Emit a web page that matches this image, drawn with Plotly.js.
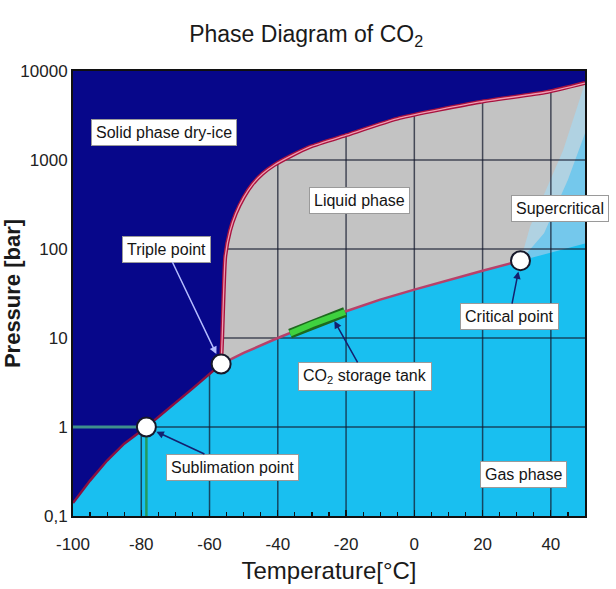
<!DOCTYPE html>
<html>
<head>
<meta charset="utf-8">
<script src="https://cdn.plot.ly/plotly-3.0.1.min.js"></script>
<style>
  html, body { margin: 0; padding: 0; background: #ffffff; }
  #chart { width: 616px; height: 589px; }
</style>
</head>
<body>
<div id="chart"></div>
<script>
// ---- data ----
const tempTicks = [-100, -80, -60, -40, -20, 0, 20, 40];
const tempTickText = ['-100', '-80', '-60', '-40', '-20', '0', '20', '40'];
const presTicks = [0.1, 1, 10, 100, 1000, 10000];
const presTickText = ['0,1', '1', '10', '100', '1000', '10000'];

// sublimation curve (solid / gas)
const sublimT = [-100, -95, -90, -85, -78.5, -72, -65, -56.6];
const sublimP = [0.14, 0.25, 0.42, 0.65, 1.0, 1.6, 2.7, 5.1];

// vaporization curve (liquid / gas)
const vapT = [-56.6, -50, -40, -30, -20, -10, 0, 10, 20, 31.1];
const vapP = [5.1, 6.8, 10, 14.3, 20, 27, 35, 45, 57, 74];

// melting curve (solid / liquid)
const meltT = [-56.6, -56.3, -55.9, -55.4, -54.0, -52.3, -50.0, -47.5, -44.5, -41.0, -36.0, -30.6, -19.7, -4.2, 19.2, 38.9, 50];
const meltP = [5.1, 10, 30, 82, 160, 250, 380, 530, 700, 880, 1120, 1405, 1918, 2970, 4490, 5810, 7330];

// supercritical shading edges: grey -> light blue, light -> mid blue, mid -> cyan
const scEdgeT = [31.1, 33.9, 43.6, 49.5, 50];
const scEdgeP = [74, 178, 1290, 6500, 7330];
const midEdgeT = [31.1, 38, 45, 50];
const midEdgeP = [74, 150, 600, 2000];
const gasEdgeT = [31.1, 40, 50];
const gasEdgeP = [74, 92, 115];

// CO2 storage tank segment
const tankT = [-36.4, -30, -20.3];
const tankP = [11.2, 14.3, 19.6];

// special points
const pointNames = ['Sublimation point', 'Triple point', 'Critical point'];
const pointT = [-78.5, -56.6, 31.1];
const pointP = [1.0, 5.1, 74];

// ---- construction ----
const xMin = -100, xMax = 50, yMin = 0.1, yMax = 10000;
const FONT = 'Liberation Sans, Arial, sans-serif';

const navy = '#07078a';
const grey = '#c3c3c3';
const cyan = '#19bff0';
const light = '#b0d2e2';
const mid = '#74c8ec';

const critP = vapP[vapP.length - 1];

// gas polygon: left edge bottom -> sublimation -> vaporization -> cyan edge -> right edge -> bottom
const gasX = [xMin].concat(sublimT, vapT.slice(1), gasEdgeT.slice(1), [xMax, xMin]);
const gasY = [yMin].concat(sublimP, vapP.slice(1), gasEdgeP.slice(1), [yMin, yMin]);

// supercritical wedges
const wedgeX = scEdgeT.concat([xMax, scEdgeT[0]]);
const wedgeY = scEdgeP.concat([critP, scEdgeP[0]]);
const midX = midEdgeT.concat([xMax, midEdgeT[0]]);
const midY = midEdgeP.concat([critP, midEdgeP[0]]);

// solid polygon (drawn on top of the grid)
const solidX = [xMin].concat(sublimT, meltT.slice(1), [xMax, xMin, xMin]);
const solidY = [sublimP[0]].concat(sublimP, meltP.slice(1), [yMax, yMax, sublimP[0]]);

// grid lines from the tick arrays
const gridX = [], gridY = [];
tempTicks.forEach(t => { if (t > xMin && t < xMax) { gridX.push(t, t, null); gridY.push(yMin, yMax, null); } });
presTicks.forEach(p => { if (p > yMin && p < yMax) { gridX.push(xMin, xMax, null); gridY.push(p, p, null); } });

const traces = [
  { x: wedgeX, y: wedgeY, mode: 'lines', fill: 'toself', fillcolor: light, line: { width: 0, color: light }, hoverinfo: 'skip', showlegend: false },
  { x: midX, y: midY, mode: 'lines', fill: 'toself', fillcolor: mid, line: { width: 0, color: mid }, hoverinfo: 'skip', showlegend: false },
  { x: gasX, y: gasY, mode: 'lines', fill: 'toself', fillcolor: cyan, line: { width: 0, color: cyan }, hoverinfo: 'skip', showlegend: false },
  { x: gridX, y: gridY, mode: 'lines', line: { color: 'rgba(20,25,45,0.72)', width: 1.5 }, hoverinfo: 'skip', showlegend: false },
  { x: solidX, y: solidY, mode: 'lines', fill: 'toself', fillcolor: navy, line: { width: 0, color: navy }, hoverinfo: 'skip', showlegend: false },
  // sublimation point guide lines
  { x: [xMin, pointT[0]], y: [pointP[0], pointP[0]], mode: 'lines', line: { color: '#3f8f8c', width: 3 }, hoverinfo: 'skip', showlegend: false },
  { x: [pointT[0], pointT[0]], y: [yMin, pointP[0]], mode: 'lines', line: { color: '#23995c', width: 2.5 }, hoverinfo: 'skip', showlegend: false },
  // phase boundaries
  { x: meltT, y: meltP, mode: 'lines', line: { color: '#a8123f', width: 4, shape: 'spline', smoothing: 0.5 }, hoverinfo: 'skip', showlegend: false },
  { x: meltT, y: meltP, mode: 'lines', line: { color: '#f09ab0', width: 1.3, shape: 'spline', smoothing: 0.5 }, hoverinfo: 'skip', showlegend: false },
  { x: sublimT, y: sublimP, mode: 'lines', line: { color: '#8a1040', width: 2.5 }, hoverinfo: 'skip', showlegend: false },
  { x: vapT, y: vapP, mode: 'lines', line: { color: '#b8406a', width: 2.5 }, hoverinfo: 'skip', showlegend: false },
  // storage tank
  { x: tankT, y: tankP, mode: 'lines', line: { color: '#1d6a1d', width: 10 }, hoverinfo: 'skip', showlegend: false },
  { x: tankT, y: tankP, mode: 'lines', line: { color: '#3fd23f', width: 6 }, hoverinfo: 'skip', showlegend: false },
  // points
  { x: pointT, y: pointP, text: pointNames, mode: 'markers', marker: { size: 19, color: '#ffffff', line: { color: '#16182a', width: 2 } }, hoverinfo: 'text', showlegend: false }
];

const boxFont = { family: FONT, size: 16, color: '#151515' };
function box(text, x, y) {
  return { text: text, x: x, y: y, xref: 'paper', yref: 'paper', xanchor: 'center', yanchor: 'middle', showarrow: false,
    bgcolor: '#ffffff', bordercolor: '#9a9a9a', borderwidth: 1, borderpad: 4, font: boxFont };
}
function arrowBox(text, x, y, ax, ay, color, standoff) {
  return { text: text, x: x, y: Math.log10(y), xref: 'x', yref: 'y', showarrow: true,
    xanchor: 'center', yanchor: 'middle',
    ax: ax, ay: ay, arrowhead: 2, arrowsize: 1, arrowwidth: 1.5, arrowcolor: color, standoff: standoff,
    bgcolor: '#ffffff', bordercolor: '#9a9a9a', borderwidth: 1, borderpad: 4, font: boxFont };
}

const layout = {
  width: 616, height: 589,
  margin: { l: 73, r: 31, t: 71, b: 73 },
  paper_bgcolor: '#ffffff',
  plot_bgcolor: grey,
  title: { text: 'Phase Diagram of CO<sub>2</sub>', x: 0.497, xanchor: 'center', y: 0.942, yanchor: 'middle',
    font: { family: FONT, size: 23, color: '#1a1a1a' } },
  xaxis: {
    type: 'linear', range: [xMin, xMax], tickmode: 'array', tickvals: tempTicks, ticktext: tempTickText,
    showgrid: false, zeroline: false, showline: true, linecolor: '#101010', linewidth: 2, mirror: true,
    ticks: 'inside', ticklen: 6, tickcolor: '#101010', tickwidth: 1.2, ticklabelstandoff: 12,
    minor: { dtick: 5, ticks: 'inside', ticklen: 4, tickcolor: '#101010', showgrid: false },
    layer: 'above traces',
    tickfont: { family: FONT, size: 17, color: '#222222' },
    title: { text: 'Temperature[°C]', standoff: 9, font: { family: FONT, size: 24, color: '#1a1a1a' } }
  },
  yaxis: {
    type: 'log', range: [Math.log10(yMin), Math.log10(yMax)], tickmode: 'array', tickvals: presTicks, ticktext: presTickText,
    showgrid: false, zeroline: false, showline: true, linecolor: '#101010', linewidth: 2, mirror: true,
    ticks: '', layer: 'above traces',
    tickfont: { family: FONT, size: 17, color: '#222222' },
    title: { text: 'Pressure [bar]', standoff: 2, font: { family: FONT, size: 22, color: '#1a1a1a', weight: 'bold' } }
  },
  annotations: [
    box('Solid phase dry-ice', 0.178, 0.861),
    box('Liquid phase', 0.559, 0.710),
    box('Supercritical', 0.951, 0.692),
    box('Gas phase', 0.879, 0.094),
    arrowBox('Triple point', pointT[1], pointP[1], -55, -115, '#b4bcff', 11),
    arrowBox('Sublimation point', pointT[0], pointP[0], 86, 40, '#14206e', 11),
    arrowBox('Critical point', pointT[2], pointP[2], -11, 56, '#14206e', 11),
    arrowBox('CO<sub>2</sub> storage tank', -24, 17, 33, 59, '#14206e', 4)
  ]
};

Plotly.newPlot('chart', traces, layout, { displayModeBar: false, staticPlot: true });
</script>
</body>
</html>
